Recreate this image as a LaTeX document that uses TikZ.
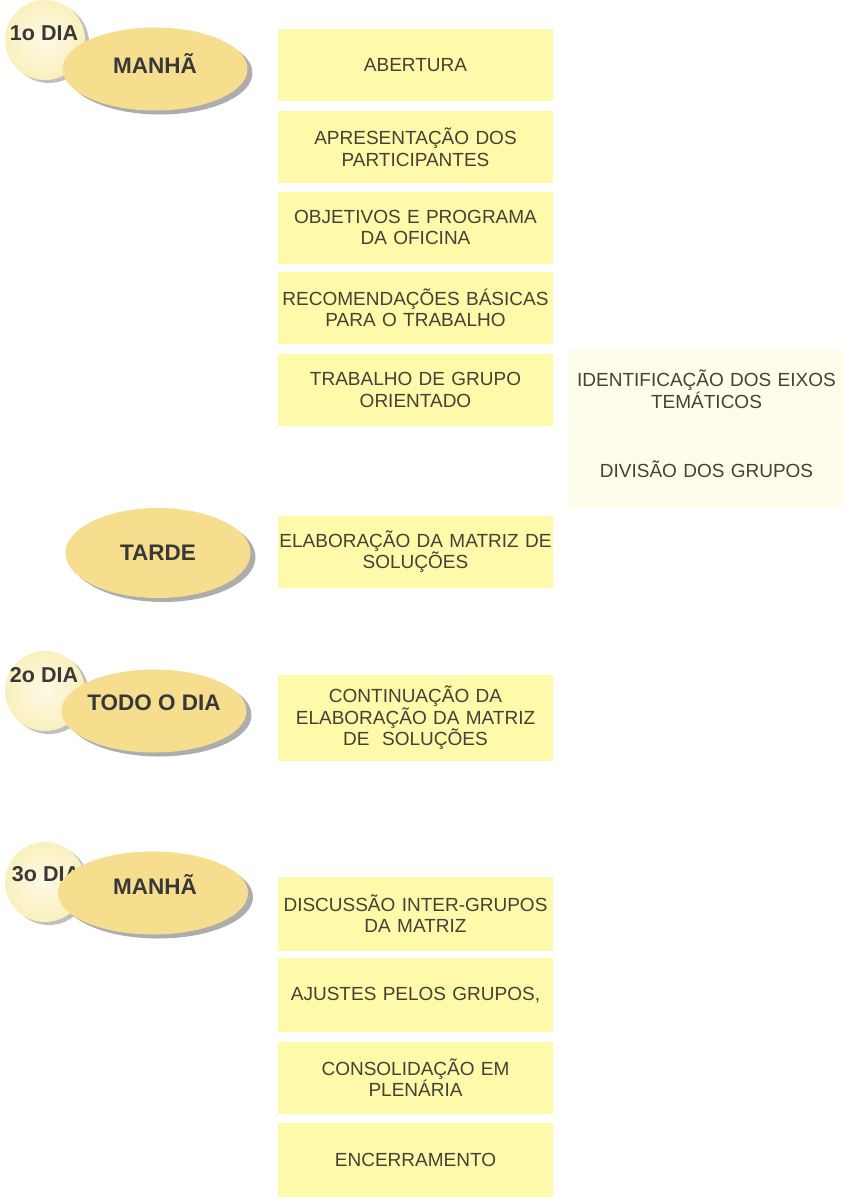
\documentclass[tikz,border=0pt]{standalone}
\usepackage{fontspec}
\setmainfont{Liberation Sans}
\usetikzlibrary{shapes.geometric,shadows}
\definecolor{boxc}{RGB}{255,249,170}
\definecolor{palec}{RGB}{255,253,233}
\definecolor{periodc}{RGB}{246,222,142}
\definecolor{dayc}{RGB}{250,240,190}
\definecolor{inkc}{RGB}{66,66,54}
\tikzset{
  item/.style={fill=boxc, minimum width=275pt, minimum height=72pt, inner sep=0pt,
    text width=275pt, align=center, text=inkc, font=\fontsize{19}{21.5}\selectfont},
  pale/.style={item, fill=palec, minimum width=274pt, minimum height=78pt},
  period/.style={ellipse, fill=periodc, minimum width=185pt, minimum height=83pt, inner sep=0pt,
    drop shadow={shadow xshift=5pt, shadow yshift=-4pt, fill=black!32, opacity=1}},
  disc/.style={circle, minimum size=80pt, inner sep=0pt, shading=radial,
    inner color=white!60!dayc, outer color=dayc,
    drop shadow={shadow xshift=4pt, shadow yshift=-3pt, fill=black!25, opacity=1}},
  daylabel/.style={font=\bfseries\fontsize{21.5}{24}\selectfont, text=black!78},
  periodlabel/.style={font=\bfseries\fontsize{22.5}{24}\selectfont, text=black!78}
}
\begin{document}
\begin{tikzpicture}[x=1pt, y=-1pt]
  \useasboundingbox (0,0) rectangle (854,1202);

  % first day
  \node[disc] (c1) at (45,40) {};
  \node[daylabel] (d1) at (44,33) {1o DIA};
  \node[period] (p1) at (155,69) {};
  \node[periodlabel] (m1) at (155,63) {MANHÃ};

  \node[item] (a1) at (415.5,65) {ABERTURA};
  \node[item] (a2) at (415.5,147) {APRESENTAÇÃO DOS\\PARTICIPANTES};
  \node[item] (a3) at (415.5,227.5) {OBJETIVOS E PROGRAMA\\DA OFICINA};
  \node[item] (a4) at (415.5,307.5) {RECOMENDAÇÕES BÁSICAS\\PARA O TRABALHO};
  \node[item] (a5) at (415.5,390) {TRABALHO DE GRUPO\\ORIENTADO};

  \node[pale] (b1) at (706.5,389) {IDENTIFICAÇÃO DOS EIXOS\\TEMÁTICOS};
  \node[pale] (b2) at (706.5,469) {DIVISÃO DOS GRUPOS};

  \node[period, minimum height=90pt] (p2) at (158,553) {};
  \node[periodlabel] (t1) at (158,553) {TARDE};
  \node[item] (a6) at (415.5,551.5) {ELABORAÇÃO DA MATRIZ DE\\SOLUÇÕES};

  % second day
  \node[disc] (c2) at (45,691) {};
  \node[daylabel] (d2) at (44,675) {2o DIA};
  \node[period] (p3) at (154,711) {};
  \node[periodlabel] (t2) at (154,703) {TODO O DIA};
  \node[item, minimum height=86pt] (a7) at (415.5,718) {CONTINUAÇÃO DA\\ELABORAÇÃO DA MATRIZ\\DE\ \ SOLUÇÕES};

  % third day
  \node[disc] (c3) at (45,882) {};
  \node[daylabel] (d3) at (46,874) {3o DIA};
  \node[period, minimum width=190pt] (p4) at (153,893) {};
  \node[periodlabel] (m3) at (155,884) {MANHÃ};

  \node[item, minimum height=74pt] (e1) at (415.5,913.5) {DISCUSSÃO INTER-GRUPOS\\DA MATRIZ};
  \node[item, minimum height=74pt] (e2) at (415.5,995) {AJUSTES PELOS GRUPOS,};
  \node[item, minimum height=72pt] (e3) at (415.5,1077.5) {CONSOLIDAÇÃO EM\\PLENÁRIA};
  \node[item, minimum height=74pt] (e4) at (415.5,1160) {ENCERRAMENTO};
\end{tikzpicture}
\end{document}
